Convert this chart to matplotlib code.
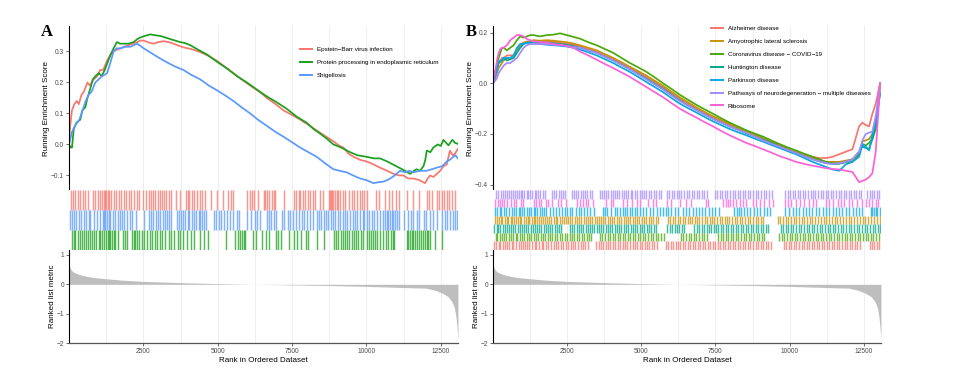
import matplotlib.pyplot as plt

plt.rcParams['font.family'] = ['Liberation Sans', 'DejaVu Sans']

# ---------------- data ----------------
n_genes = 13080

# ranked list metric (shared by both panels)
metric_rank = [0, 30, 80, 150, 250, 400, 600, 850, 1250, 1800, 2500, 3200, 4000, 5000, 6000, 6250,
               7000, 7500, 8750, 10000, 11000, 11600, 12000, 12300, 12550, 12750, 12880, 12960,
               13010, 13040, 13060, 13078]
metric_val = [0.68, 0.58, 0.48, 0.42, 0.37, 0.32, 0.27, 0.23, 0.19, 0.14, 0.10, 0.075, 0.05, 0.025,
              0.005, 0.0, -0.01, -0.02, -0.04, -0.07, -0.1, -0.12, -0.13, -0.2, -0.3, -0.42, -0.6,
              -0.8, -1.1, -1.4, -1.65, -1.85]

# ---- panel A ----
a_names = ["Epstein\u2212Barr virus infection", "Protein processing in endoplasmic reticulum", "Shigellosis"]
a_colors = ["#F8766D", "#19A01C", "#5A98FF"]

ebv_rank = [0, 40, 100, 180, 260, 330, 420, 500, 620, 700, 830, 950, 1050, 1150, 1280, 1400, 1500, 1600,
            1730, 1850, 2000, 2150, 2290, 2400, 2510, 2700, 2850, 3000, 3180, 3350, 3520, 3700, 3850,
            4100, 4410, 4700, 4970, 5250, 5530, 5800, 6090, 6400, 6650, 6950, 7210, 7500, 7770, 8050,
            8330, 8600, 8890, 9100, 9230, 9400, 9570, 9800, 10010, 10250, 10460, 10700, 10910, 11100,
            11250, 11400, 11580, 11780, 11970, 12060, 12140, 12250, 12370, 12480, 12590, 12700, 12810,
            12900, 12980, 13070]
ebv_es = [0.0, 0.06, 0.11, 0.13, 0.14, 0.13, 0.16, 0.17, 0.2, 0.19, 0.21, 0.22, 0.24, 0.24, 0.27, 0.29,
          0.30, 0.305, 0.31, 0.315, 0.32, 0.325, 0.33, 0.335, 0.335, 0.328, 0.325, 0.33, 0.333, 0.33,
          0.325, 0.318, 0.313, 0.308, 0.298, 0.285, 0.27, 0.25, 0.23, 0.21, 0.19, 0.17, 0.15, 0.13,
          0.11, 0.095, 0.08, 0.063, 0.045, 0.028, 0.01, -0.005, -0.01, -0.03, -0.04, -0.05, -0.055,
          -0.065, -0.075, -0.085, -0.095, -0.1, -0.1, -0.11, -0.11, -0.115, -0.125, -0.11, -0.1,
          -0.105, -0.095, -0.085, -0.07, -0.065, -0.02, -0.035, -0.03, -0.015]

ppe_rank = [0, 60, 100, 160, 250, 380, 450, 550, 620, 715, 800, 885, 1000, 1100, 1200, 1280, 1400, 1500,
            1610, 1720, 1840, 2000, 2170, 2300, 2400, 2550, 2730, 2900, 3070, 3240, 3400, 3570, 3740,
            3900, 4080, 4350, 4640, 5000, 5310, 5650, 5980, 6300, 6650, 7000, 7320, 7650, 7990, 8220,
            8440, 8650, 8890, 9150, 9450, 9700, 10010, 10250, 10460, 10700, 10900, 11100, 11300, 11470,
            11600, 11690, 11800, 11920, 11980, 12030, 12150, 12250, 12400, 12500, 12590, 12680, 12760,
            12890, 12980, 13070]
ppe_es = [0.0, -0.01, -0.01, 0.05, 0.07, 0.08, 0.11, 0.12, 0.15, 0.18, 0.21, 0.22, 0.23, 0.22, 0.24,
          0.26, 0.29, 0.31, 0.33, 0.325, 0.325, 0.325, 0.33, 0.34, 0.345, 0.35, 0.355, 0.352, 0.35,
          0.345, 0.34, 0.335, 0.33, 0.327, 0.32, 0.305, 0.29, 0.265, 0.245, 0.22, 0.2, 0.178, 0.155,
          0.135, 0.115, 0.09, 0.07, 0.05, 0.035, 0.02, 0.0, -0.01, -0.025, -0.035, -0.04, -0.045,
          -0.045, -0.055, -0.065, -0.075, -0.085, -0.095, -0.085, -0.08, -0.085, -0.07, -0.05, -0.02,
          -0.025, -0.01, 0.0, -0.005, 0.015, 0.005, -0.003, 0.015, 0.005, 0.002]

shig_rank = [0, 50, 100, 200, 270, 350, 490, 560, 660, 760, 885, 1000, 1110, 1200, 1280, 1380, 1500,
             1600, 1725, 1900, 2060, 2180, 2285, 2400, 2510, 2680, 2845, 3050, 3290, 3550, 3850, 4100,
             4410, 4700, 4970, 5250, 5530, 5800, 6090, 6350, 6650, 6950, 7210, 7500, 7770, 8050, 8330,
             8600, 8890, 9100, 9340, 9550, 9790, 10000, 10235, 10400, 10570, 10700, 10800, 10950,
             11130, 11300, 11450, 11580, 11800, 12030, 12200, 12365, 12550, 12700, 12800, 12920,
             13000, 13070]
shig_es = [0.0, 0.02, 0.04, 0.06, 0.07, 0.08, 0.12, 0.14, 0.16, 0.17, 0.2, 0.21, 0.22, 0.225, 0.23,
           0.26, 0.3, 0.31, 0.31, 0.315, 0.315, 0.32, 0.325, 0.318, 0.31, 0.3, 0.29, 0.278, 0.265,
           0.252, 0.24, 0.225, 0.21, 0.19, 0.175, 0.158, 0.14, 0.12, 0.1, 0.08, 0.06, 0.04, 0.025,
           0.007, -0.01, -0.025, -0.04, -0.06, -0.08, -0.085, -0.09, -0.1, -0.11, -0.115, -0.125,
           -0.122, -0.12, -0.115, -0.11, -0.1, -0.085, -0.09, -0.085, -0.09, -0.085, -0.085, -0.08,
           -0.075, -0.07, -0.055, -0.05, -0.04, -0.035, -0.045]

ebv_hits = [70, 130, 210, 290, 380, 470, 550, 630, 810, 890, 960, 1050, 1110, 1170, 1220, 1250, 1300,
            1360, 1420, 1500, 1590, 1670, 1750, 1860, 1930, 2010, 2090, 2170, 2290, 2370, 2490, 2600,
            2680, 2760, 2820, 2900, 2980, 3050, 3130, 3180, 3260, 3350, 3430, 3610, 3740, 3940, 3990,
            4050, 4130, 4190, 4300, 4390, 4470, 4580, 4770, 4970, 5170, 5330, 5440, 5530, 6000, 6070,
            6150, 6230, 6340, 6540, 6600, 6650, 6740, 6820, 6880, 6930, 7240, 7570, 7640, 7720, 7770,
            7860, 7940, 8020, 8110, 8200, 8280, 8450, 8530, 8730, 8760, 8800, 8850, 8890, 8950, 9010,
            9060, 9120, 9210, 9290, 9430, 9510, 9590, 9680, 9770, 9850, 9920, 10010, 10330, 10440,
            10630, 10770, 10850, 11000, 11080, 11380, 11560, 11780, 12030, 12120, 12200, 12390, 12450,
            12530, 12610, 12700, 12790, 12870, 12980]
ppe_hits = [100, 160, 210, 290, 360, 440, 490, 560, 630, 690, 770, 850, 920, 1000, 1050, 1110, 1190,
            1250, 1300, 1330, 1390, 1450, 1500, 1560, 1640, 1810, 1890, 1950, 2120, 2170, 2230, 2290,
            2370, 2450, 2530, 2620, 2710, 2790, 2900, 2960, 3050, 3120, 3240, 3350, 3430, 3520, 3650,
            3740, 3830, 3960, 4100, 4190, 4390, 4550, 4690, 5290, 5590, 5670, 5760, 5810, 5870, 5930,
            6200, 6290, 6490, 6630, 6710, 6970, 7040, 7120, 7410, 7550, 7680, 7800, 7970, 8050, 8330,
            8580, 8920, 8980, 9060, 9140, 9210, 9290, 9360, 9430, 9510, 9590, 9650, 9730, 9810, 9900,
            10010, 10100, 10150, 10210, 10290, 10370, 10460, 10550, 10660, 10740, 10820, 10890, 10930,
            11360, 11410, 11470, 11520, 11580, 11640, 11690, 11760, 11830, 11890, 11970, 12030, 12080,
            12140, 12310, 12530]
shig_hits = [45, 100, 180, 250, 330, 400, 490, 580, 660, 720, 850, 940, 1030, 1140, 1190, 1220, 1280,
             1330, 1390, 1480, 1560, 1640, 1700, 1780, 1860, 1950, 2040, 2120, 2260, 2530, 2680, 2760,
             2820, 2910, 2980, 3070, 3160, 3240, 3290, 3350, 3430, 3630, 3690, 3760, 3830, 3910, 3990,
             4050, 4130, 4190, 4280, 4360, 4410, 4470, 4550, 4610, 4860, 4950, 5030, 5110, 5200, 5310,
             5400, 5530, 5650, 5730, 5980, 6120, 6260, 6320, 6410, 6650, 6710, 6790, 6880, 6970, 7160,
             7240, 7350, 7440, 7530, 7640, 7750, 7830, 7910, 8000, 8110, 8220, 8330, 8390, 8470, 8560,
             8650, 8720, 8800, 8870, 8950, 9030, 9120, 9210, 9290, 9360, 9450, 9540, 9620, 9700, 9790,
             9880, 9920, 10010, 10100, 10180, 10260, 10350, 10460, 10550, 10630, 10690, 10740, 10800,
             10850, 10910, 10970, 11020, 11110, 11250, 11410, 11490, 11580, 11690, 11780, 11920, 12010,
             12140, 12250, 12390, 12530, 12650, 12720, 12810, 12900, 12980, 13060]

# ---- panel B ----
b_names = ["Alzheimer disease", "Amyotrophic lateral sclerosis", "Coronavirus disease \u2212 COVID\u221219",
           "Huntington disease", "Parkinson disease", "Pathways of neurodegeneration \u2212 multiple diseases",
           "Ribosome"]
b_colors = ["#F8766D", "#C8920A", "#4AA80C", "#00A68A", "#0AA6E6", "#A58AFF", "#FB61D7"]

b_rank = [0, 78, 134, 190, 246, 302, 358, 470, 582, 694, 806, 918, 1030, 1142, 1254, 1366, 1590, 1814,
          2040, 2262, 2486, 2710, 2934, 3214, 3494, 3774, 4054, 4334, 4614, 4894, 5174, 5454, 5734,
          6014, 6294, 6574, 6854, 7134, 7414, 7694, 7974, 8254, 8534, 8814, 9094, 9374, 9654, 9934,
          10214, 10494, 10774, 11000, 11222, 11446, 11670, 11894, 12118, 12342, 12454, 12566, 12678,
          12790, 12902, 12958, 13010, 13048]
alz_es = [0.0, 0.03, 0.06, 0.08, 0.09, 0.1, 0.1, 0.11, 0.11, 0.11, 0.13, 0.15, 0.16, 0.165, 0.165, 0.168,
          0.165, 0.165, 0.163, 0.16, 0.157, 0.152, 0.145, 0.135, 0.125, 0.11, 0.095, 0.078, 0.06, 0.043,
          0.025, 0.005, -0.015, -0.038, -0.06, -0.08, -0.1, -0.118, -0.135, -0.15, -0.165, -0.178,
          -0.19, -0.203, -0.215, -0.228, -0.24, -0.255, -0.27, -0.28, -0.29, -0.295, -0.295, -0.29,
          -0.28, -0.27, -0.26, -0.17, -0.155, -0.165, -0.17, -0.12, -0.08, -0.05, -0.02, 0.0]
als_es = [0.0, 0.02, 0.04, 0.06, 0.07, 0.08, 0.09, 0.1, 0.1, 0.11, 0.13, 0.15, 0.16, 0.163, 0.165, 0.17,
          0.168, 0.17, 0.168, 0.165, 0.162, 0.157, 0.15, 0.14, 0.13, 0.115, 0.1, 0.083, 0.065, 0.048,
          0.03, 0.01, -0.01, -0.033, -0.055, -0.075, -0.095, -0.113, -0.13, -0.145, -0.16, -0.175,
          -0.19, -0.203, -0.215, -0.23, -0.245, -0.258, -0.27, -0.283, -0.295, -0.302, -0.31, -0.31,
          -0.31, -0.305, -0.3, -0.28, -0.23, -0.225, -0.22, -0.2, -0.16, -0.1, -0.05, 0.0]
covid_es = [0.0, 0.05, 0.07, 0.1, 0.12, 0.14, 0.14, 0.13, 0.14, 0.15, 0.17, 0.185, 0.18, 0.185, 0.19,
            0.19, 0.185, 0.19, 0.192, 0.197, 0.19, 0.183, 0.176, 0.162, 0.15, 0.135, 0.12, 0.1, 0.08,
            0.063, 0.045, 0.023, 0.0, -0.022, -0.045, -0.065, -0.085, -0.103, -0.12, -0.138, -0.155,
            -0.17, -0.185, -0.198, -0.21, -0.225, -0.24, -0.253, -0.265, -0.278, -0.29, -0.3, -0.31,
            -0.315, -0.315, -0.312, -0.31, -0.28, -0.24, -0.245, -0.235, -0.22, -0.18, -0.12, -0.06, 0.0]
hunt_es = [0.0, 0.04, 0.06, 0.08, 0.085, 0.09, 0.1, 0.09, 0.095, 0.1, 0.12, 0.14, 0.155, 0.16, 0.162,
           0.163, 0.162, 0.16, 0.158, 0.155, 0.152, 0.147, 0.14, 0.13, 0.12, 0.105, 0.09, 0.073, 0.055,
           0.037, 0.018, -0.002, -0.022, -0.045, -0.067, -0.087, -0.105, -0.123, -0.14, -0.155, -0.17,
           -0.183, -0.197, -0.21, -0.222, -0.235, -0.25, -0.263, -0.275, -0.288, -0.3, -0.308, -0.315,
           -0.318, -0.318, -0.31, -0.3, -0.27, -0.25, -0.255, -0.26, -0.22, -0.17, -0.12, -0.07, -0.04]
park_es = [0.0, 0.03, 0.05, 0.08, 0.09, 0.09, 0.1, 0.1, 0.1, 0.11, 0.14, 0.155, 0.155, 0.16, 0.158,
           0.157, 0.155, 0.152, 0.15, 0.148, 0.145, 0.14, 0.133, 0.122, 0.11, 0.095, 0.08, 0.062, 0.045,
           0.025, 0.005, -0.015, -0.035, -0.058, -0.08, -0.098, -0.115, -0.133, -0.15, -0.165, -0.18,
           -0.193, -0.205, -0.218, -0.23, -0.243, -0.255, -0.268, -0.28, -0.295, -0.31, -0.32, -0.33,
           -0.34, -0.345, -0.32, -0.31, -0.29, -0.24, -0.25, -0.265, -0.2, -0.15, -0.11, -0.07, -0.04]
neuro_es = [0.0, 0.01, 0.02, 0.04, 0.05, 0.06, 0.07, 0.08, 0.08, 0.09, 0.1, 0.12, 0.14, 0.15, 0.155,
            0.155, 0.155, 0.155, 0.152, 0.15, 0.148, 0.143, 0.14, 0.13, 0.12, 0.105, 0.09, 0.073, 0.055,
            0.035, 0.015, -0.005, -0.025, -0.048, -0.07, -0.088, -0.105, -0.123, -0.14, -0.155, -0.17,
            -0.183, -0.195, -0.21, -0.225, -0.238, -0.25, -0.263, -0.275, -0.288, -0.3, -0.308, -0.315,
            -0.318, -0.315, -0.31, -0.3, -0.27, -0.225, -0.2, -0.195, -0.19, -0.13, -0.08, -0.03, -0.01]
ribo_es = [0.0, 0.05, 0.09, 0.12, 0.135, 0.14, 0.14, 0.15, 0.17, 0.18, 0.19, 0.19, 0.185, 0.175, 0.17,
           0.165, 0.163, 0.16, 0.155, 0.152, 0.148, 0.14, 0.125, 0.11, 0.093, 0.076, 0.06, 0.043, 0.025,
           0.005, -0.015, -0.035, -0.055, -0.078, -0.1, -0.118, -0.135, -0.153, -0.17, -0.188, -0.205,
           -0.22, -0.235, -0.247, -0.26, -0.273, -0.287, -0.298, -0.31, -0.318, -0.325, -0.33, -0.335,
           -0.338, -0.34, -0.345, -0.35, -0.39, -0.385, -0.38, -0.37, -0.355, -0.27, -0.17, -0.08, 0.0]

alz_hits = [40, 110, 190, 240, 330, 420, 460, 550, 640, 690, 780, 870, 930, 1010, 1090, 1160, 1230, 1310,
            1400, 1460, 1550, 1640, 1700, 1790, 1870, 1950, 2040, 2120, 2200, 2280, 2350, 2460, 2530,
            2620, 2700, 2780, 2850, 2950, 3030, 3110, 3200, 3470, 3560, 3630, 3720, 3800, 3890, 3960,
            4050, 4120, 4210, 4290, 4370, 4460, 4530, 4620, 4710, 4790, 4870, 4940, 5030, 5120, 5190,
            5270, 5360, 5440, 5530, 5820, 5900, 5990, 6070, 6160, 6230, 6320, 6410, 6480, 6570, 6650,
            6740, 6820, 6900, 6990, 7070, 7160, 7240, 7330, 7410, 7490, 7580, 7660, 7750, 7830, 7920,
            8000, 8090, 8170, 8260, 8340, 8430, 8510, 8600, 8680, 8770, 8850, 8940, 9020, 9110, 9190,
            9280, 9370, 9800, 9890, 9970, 10060, 10140, 10230, 10310, 10400, 10480, 10570, 10660, 10740,
            10830, 10910, 11000, 11080, 11170, 11250, 11340, 11420, 11510, 11590, 11680, 11770, 11850,
            11940, 12020, 12110, 12190, 12280, 12370, 12700, 12770, 12850, 12930, 13010]
als_hits = [60, 130, 190, 260, 310, 390, 460, 520, 590, 640, 720, 790, 840, 910, 960, 1040, 1100, 1170,
            1220, 1300, 1370, 1420, 1490, 1550, 1630, 1690, 1760, 1820, 1900, 1960, 2040, 2110, 2170,
            2250, 2320, 2400, 2460, 2540, 2610, 2680, 2760, 2830, 2910, 2970, 3060, 3120, 3200, 3270,
            3340, 3430, 3490, 3570, 3640, 3720, 3790, 3870, 3940, 4020, 4090, 4170, 4240, 4320, 4400,
            4470, 4550, 4620, 4710, 4780, 4860, 4930, 5020, 5090, 5170, 5250, 5320, 5410, 5480, 5560,
            5900, 5970, 6060, 6140, 6230, 6300, 6390, 6470, 6560, 6630, 6720, 6800, 6890, 6960, 7050,
            7140, 7210, 7300, 7390, 7460, 7560, 7640, 7720, 7810, 7900, 7970, 8070, 8150, 8240, 8320,
            8410, 8500, 8590, 8670, 8760, 8850, 8940, 9030, 9110, 9600, 9690, 9770, 9870, 9960, 10040,
            10140, 10230, 10310, 10410, 10500, 10590, 10690, 10770, 10870, 10960, 11050, 11150, 11240,
            11330, 11420, 11520, 11610, 11700, 11800, 11890, 11990, 12080, 12170, 12270, 12360, 12460,
            12550, 12640, 12740, 12840, 12930, 13030]
covid_hits = [90, 150, 230, 300, 370, 450, 540, 600, 680, 760, 820, 900, 990, 1060, 1140, 1210, 1290,
              1380, 1440, 1520, 1610, 1690, 1760, 1850, 1930, 2000, 2090, 2170, 2260, 2330, 2420, 2500,
              2580, 2670, 2740, 2830, 2910, 2990, 3080, 3160, 3240, 3320, 3600, 3690, 3770, 3860, 3950,
              4030, 4110, 4200, 4290, 4370, 4460, 4540, 4630, 4710, 4800, 4880, 4970, 5060, 5140, 5230,
              5310, 5400, 5480, 5570, 5660, 5760, 6340, 6420, 6510, 6600, 6680, 6770, 6860, 6940, 7030,
              7120, 7210, 7580, 7670, 7750, 7840, 7930, 8010, 8100, 8190, 8270, 8360, 8450, 8540, 8620,
              8710, 8800, 8890, 8970, 9060, 9150, 9650, 9740, 9820, 9910, 10000, 10090, 10170, 10260,
              10350, 10440, 10520, 10610, 10700, 10790, 10880, 10960, 11050, 11140, 11230, 11320, 11400,
              11490, 11580, 11670, 11760, 11850, 11930, 12020, 12110, 12200, 12290, 12380, 12470, 12560,
              12640, 12730, 12820, 12910, 13000]
hunt_hits = [50, 120, 170, 250, 330, 390, 470, 540, 610, 690, 750, 830, 900, 970, 1050, 1120, 1190,
             1270, 1340, 1410, 1490, 1560, 1630, 1710, 1780, 1850, 1930, 2000, 2080, 2150, 2220, 2300,
             2590, 2670, 2740, 2820, 2890, 2970, 3040, 3120, 3190, 3270, 3340, 3420, 3490, 3570, 3640,
             3720, 3800, 3870, 3950, 4020, 4100, 4180, 4250, 4330, 4410, 4480, 4560, 4640, 4720, 4790,
             4870, 4950, 5030, 5100, 5180, 5260, 5340, 5420, 5490, 5880, 5960, 6040, 6120, 6200, 6280,
             6360, 6440, 6790, 6870, 6950, 7030, 7110, 7200, 7280, 7360, 7440, 7520, 7600, 7690, 7770,
             7850, 7930, 8020, 8100, 8180, 8270, 8350, 8430, 8520, 8600, 8690, 8770, 8860, 8940, 9030,
             9110, 9200, 9280, 9700, 9780, 9870, 9960, 10040, 10130, 10220, 10310, 10390, 10480, 10570,
             10660, 10750, 10830, 10920, 11010, 11100, 11190, 11280, 11370, 11450, 11540, 11630, 11720,
             11810, 11900, 11990, 12080, 12170, 12260, 12350, 12440, 12530, 12620, 12710, 12800, 12890,
             12980, 13050]
park_hits = [70, 130, 230, 280, 370, 450, 530, 640, 700, 790, 860, 920, 980, 1060, 1150, 1210, 1270,
             1380, 1430, 1490, 1570, 1650, 1730, 1800, 1920, 2010, 2120, 2230, 2340, 2420, 2500, 2590,
             2680, 2810, 2900, 2980, 3060, 3170, 3280, 3390, 3700, 3780, 3850, 3990, 4100, 4190, 4280,
             4370, 4440, 4520, 4610, 4700, 4780, 4860, 4970, 5060, 5170, 5290, 5400, 5530, 5640, 5730,
             5820, 5900, 6010, 6120, 6230, 6400, 6520, 6610, 6740, 6850, 6960, 7050, 7160, 7270, 7390,
             7500, 7620, 8120, 8210, 8290, 8370, 8460, 8570, 8680, 8790, 8900, 9010, 9130, 9240, 9350,
             9860, 9970, 10100, 10210, 10330, 10440, 10550, 10660, 10770, 10890, 11000, 11110, 11220,
             11340, 11450, 11560, 11670, 11780, 11900, 12010, 12120, 12230, 12340, 12450, 12730, 12790,
             12840, 12900, 12960, 13030]
neuro_hits = [90, 160, 280, 350, 410, 470, 540, 600, 680, 740, 800, 870, 930, 990, 1060, 1130, 1180,
              1250, 1320, 1400, 1450, 1530, 1600, 1680, 1750, 1990, 2060, 2140, 2210, 2290, 2350, 2430,
              2650, 2720, 2800, 2870, 2960, 3030, 3110, 3180, 3260, 3330, 3600, 3680, 3740, 3820, 3890,
              3970, 4040, 4120, 4190, 4260, 4340, 4400, 4480, 4560, 4640, 4700, 4790, 4860, 4940, 5010,
              5090, 5170, 5260, 5340, 5420, 5500, 5590, 5650, 5860, 5940, 6020, 6110, 6190, 6280, 6350,
              6440, 6530, 6610, 6700, 6790, 6870, 6950, 7040, 7120, 7200, 7480, 7560, 7640, 7730, 7810,
              7900, 7990, 8080, 8160, 8250, 8330, 8420, 8510, 8590, 8680, 8770, 8850, 8940, 9030, 9120,
              9210, 9300, 9400, 9850, 9930, 10010, 10100, 10190, 10280, 10350, 10440, 10530, 10620,
              10710, 10780, 10870, 10960, 11050, 11130, 11220, 11300, 11390, 11470, 11560, 11650, 11730,
              11820, 11900, 11990, 12080, 12160, 12250, 12330, 12400, 12620, 12700, 12780, 12860, 12940,
              13020]
ribo_hits = [78, 157, 224, 302, 381, 470, 605, 694, 784, 941, 1008, 1366, 1456, 1534, 1613, 1792, 1870,
             1982, 2206, 2285, 2464, 2822, 2934, 3024, 3136, 3214, 3382, 3808, 3965, 4054, 4368, 4502,
             4670, 4838, 4950, 5230, 5398, 5488, 5869, 6014, 6294, 6518, 6686, 7168, 7246, 7750, 7840,
             7918, 7997, 8086, 8176, 8310, 8422, 8534, 8758, 8870, 9005, 9150, 9318, 9430, 9856, 9934,
             10046, 10214, 10349, 10494, 10662, 10774, 10886, 11222, 11334, 11469, 11614, 11726, 11838,
             12006, 12118, 12286, 12454, 12566, 12678, 12790, 12902, 12992]

# ---------------- figure ----------------
fig = plt.figure(figsize=(9.65, 3.77), dpi=100)
W, H = 965.0, 377.0


def px_axes(x0, x1, y0, y1):
    return fig.add_axes([x0 / W, 1 - y1 / H, (x1 - x0) / W, (y1 - y0) / H])


grid_ticks = [1250 * k for k in range(1, 11)]
tick_font = 4.8
label_font = 5.8


def base_style(ax):
    ax.set_xlim(0, n_genes)
    ax.set_xticks(grid_ticks)
    ax.grid(axis='x', color='#EBEBEB', lw=0.6)
    ax.set_axisbelow(True)
    for s in ['top', 'right', 'bottom', 'left']:
        ax.spines[s].set_visible(False)
    ax.tick_params(axis='x', length=0, labelbottom=False)
    ax.tick_params(axis='y', length=2, width=0.5, color='#333333', labelsize=tick_font,
                   labelcolor='#4D4D4D', pad=1.5)


def make_panel(xl, xr, letter, curves, colors, names, hits, es_lim, es_ticks, leg_anchor):
    ax_es = px_axes(xl, xr, 26, 190)
    ax_hit = px_axes(xl, xr, 190, 250)
    ax_rank = px_axes(xl, xr, 250, 343)
    for ax in (ax_es, ax_hit, ax_rank):
        base_style(ax)

    # running enrichment score
    for (rk, es), c, nm in zip(curves, colors, names):
        ax_es.plot(rk, es, color=c, lw=1.25, label=nm)
    ax_es.set_ylim(*es_lim)
    ax_es.set_yticks(es_ticks)
    ax_es.set_yticklabels([f"{t:.1f}".replace('-', '\u2212') for t in es_ticks])
    ax_es.spines['left'].set_visible(True)
    ax_es.spines['left'].set_linewidth(0.8)
    ax_es.set_ylabel("Running Enrichment Score", fontsize=label_font, labelpad=0.5)
    leg = ax_es.legend(loc='upper left', bbox_to_anchor=leg_anchor, frameon=False,
                       fontsize=4.5, handlelength=1.9, handletextpad=0.8,
                       labelspacing=1.2, borderpad=0, borderaxespad=0)
    for ln in leg.get_lines():
        ln.set_linewidth(1.4)

    # hit marks
    n_rows = len(hits)
    for i, (h, c) in enumerate(hits):
        ax_hit.vlines(h, n_rows - i - 1, n_rows - i, color=c, lw=1.05, alpha=0.75)
    ax_hit.set_ylim(0, n_rows)
    ax_hit.set_yticks([])

    # ranked list metric
    ax_rank.fill_between(metric_rank, 0, metric_val, color='#BEBEBE', lw=0)
    ax_rank.set_ylim(-2, 1.17)
    ax_rank.set_yticks([1, 0, -1, -2])
    ax_rank.set_yticklabels(['1', '0', '\u22121', '\u22122'])
    ax_rank.spines['left'].set_visible(True)
    ax_rank.spines['left'].set_linewidth(0.8)
    ax_rank.spines['bottom'].set_visible(True)
    ax_rank.spines['bottom'].set_linewidth(0.9)
    ax_rank.spines['bottom'].set_color('#555555')
    ax_rank.set_xticks([2500, 5000, 7500, 10000, 12500])
    ax_rank.set_xticks(grid_ticks, minor=True)
    ax_rank.grid(axis='x', which='both', color='#EBEBEB', lw=0.6)
    ax_rank.tick_params(axis='x', length=2, width=0.5, color='#333333', labelbottom=True,
                        labelsize=tick_font, labelcolor='#4D4D4D', pad=1.5)
    ax_rank.tick_params(axis='x', which='minor', length=0)
    ax_rank.set_ylabel("Ranked list metric", fontsize=label_font, labelpad=0.5)
    ax_rank.set_xlabel("Rank in Ordered Dataset", fontsize=label_font, labelpad=1.5)

    fig.text((xl - 16) / W, 1 - 32 / H, letter, fontsize=12, fontweight='bold',
             family='Liberation Serif', ha='right', va='center')
    return ax_es, ax_hit, ax_rank


make_panel(69, 458, "A",
           [(ebv_rank, ebv_es), (ppe_rank, ppe_es), (shig_rank, shig_es)],
           a_colors, a_names,
           [(ebv_hits, a_colors[0]), (shig_hits, a_colors[2]), (ppe_hits, a_colors[1])],
           (-0.147, 0.382), [-0.1, 0.0, 0.1, 0.2, 0.3], (0.594, 0.872))

make_panel(493, 881, "B",
           [(b_rank, alz_es), (b_rank, als_es), (b_rank, covid_es), (b_rank, hunt_es),
            (b_rank, park_es), (b_rank, neuro_es), (b_rank, ribo_es)],
           b_colors, b_names,
           [(neuro_hits, b_colors[5]), (ribo_hits, b_colors[6]), (park_hits, b_colors[4]),
            (als_hits, b_colors[1]), (hunt_hits, b_colors[3]), (covid_hits, b_colors[2]),
            (alz_hits, b_colors[0])],
           (-0.421, 0.226), [-0.4, -0.2, 0.0, 0.2], (0.562, 1.0))

fig.savefig("out.png", dpi=100)
